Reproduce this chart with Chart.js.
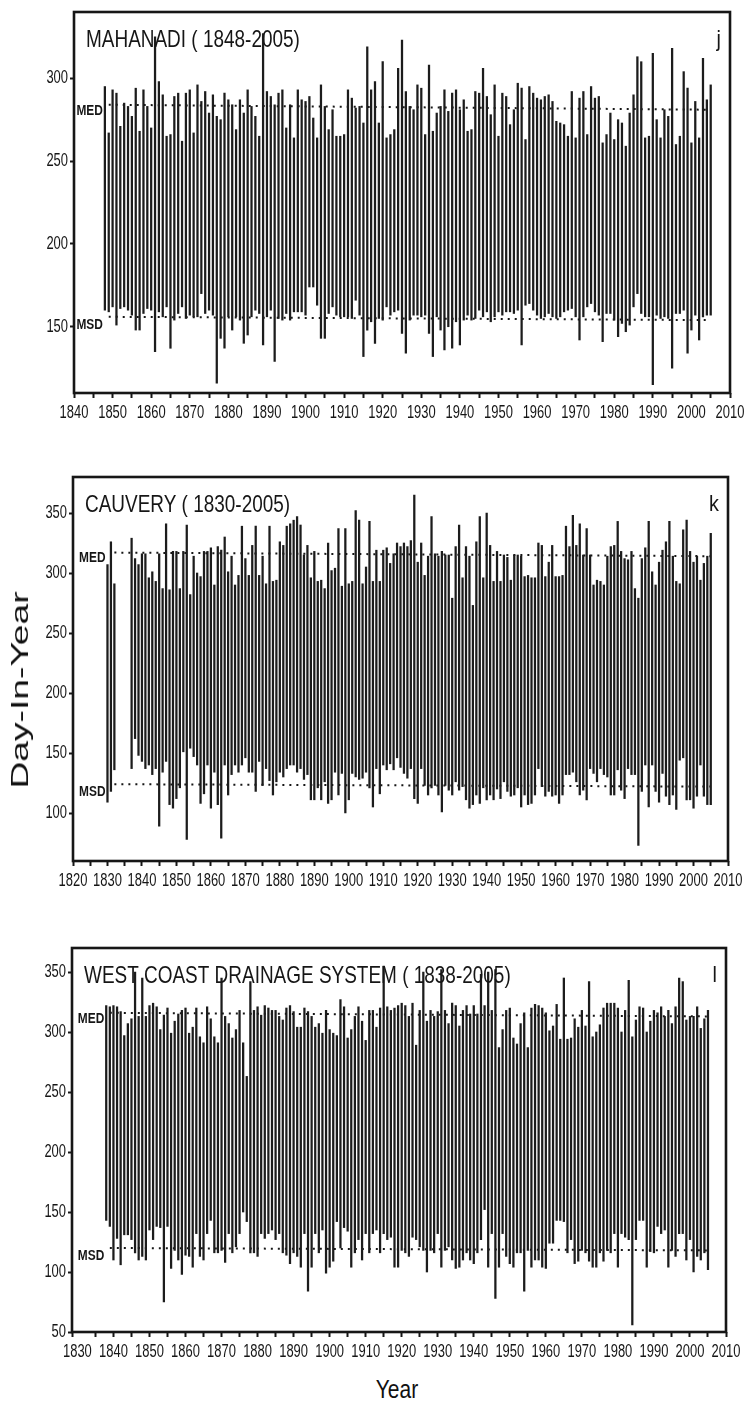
<!DOCTYPE html>
<html>
<head>
<meta charset="utf-8">
<script src="https://cdn.jsdelivr.net/npm/chart.js@4.4.1/dist/chart.umd.min.js"></script>
<style>
  body { margin: 0; background: #fff; width: 745px; height: 1407px; position: relative; overflow: hidden;
         font-family: 'Liberation Sans', Arial, sans-serif; color: #111; }
  canvas { position: absolute; left: 0; }
  #ylab { position: absolute; left: -130px; top: 676px; width: 300px; height: 28px; line-height: 28px;
          text-align: center; font-size: 24px; transform: rotate(-90deg) scaleX(1.55); }
  #xlab { position: absolute; left: 297px; top: 1378px; width: 200px; text-align: center;
          font-size: 21px; transform: scaleY(1.2); }
</style>
</head>
<body>
<canvas id="c1" width="745" height="433" style="top:0px"></canvas>
<canvas id="c2" width="745" height="436" style="top:465px"></canvas>
<canvas id="c3" width="745" height="436" style="top:936px"></canvas>
<div id="ylab">Day-In-Year</div>
<div id="xlab">Year</div>
<script>
// Mahanadi, 1848-2005 : withdrawal (top of line) and onset (bottom of line), day of year
const mahanadiStart = 1848;
const mahanadiWithdrawal = [
  295, 267, 293, 291, 271, 285, 283, 277, 294, 268,
  293, 283, 270, 325, 298, 290, 265, 266, 289, 291,
  262, 291, 293, 267, 296, 286, 292, 279, 290, 277,
  275, 291, 287, 284, 269, 287, 279, 293, 283, 277,
  265, 327, 292, 289, 284, 291, 293, 270, 284, 264,
  293, 287, 286, 289, 276, 264, 296, 283, 269, 281,
  265, 265, 266, 293, 288, 282, 283, 273, 319, 293,
  298, 273, 310, 264, 266, 269, 306, 323, 292, 283,
  281, 296, 294, 266, 308, 268, 279, 283, 293, 280,
  291, 293, 281, 287, 268, 269, 292, 291, 306, 289,
  278, 296, 265, 291, 289, 272, 281, 297, 294, 263,
  295, 291, 288, 287, 289, 290, 286, 274, 273, 272,
  265, 292, 264, 288, 292, 266, 295, 288, 289, 261,
  266, 279, 263, 275, 273, 259, 279, 290, 313, 310,
  264, 265, 315, 275, 264, 281, 277, 318, 260, 265,
  304, 294, 261, 286, 264, 312, 287, 296
];
const mahanadiOnset = [
  160, 159, 162, 151, 161, 162, 160, 157, 148, 148,
  158, 161, 160, 135, 159, 156, 162, 137, 154, 158,
  162, 155, 157, 156, 156, 170, 158, 160, 157, 116,
  143, 137, 156, 148, 156, 154, 140, 145, 156, 160,
  158, 139, 156, 160, 129, 155, 154, 158, 154, 159,
  159, 159, 157, 174, 174, 163, 143, 143, 158, 162,
  157, 156, 156, 156, 155, 166, 157, 132, 148, 153,
  140, 155, 154, 162, 157, 159, 160, 146, 134, 154,
  157, 157, 156, 157, 146, 132, 156, 148, 136, 150,
  137, 153, 139, 154, 157, 154, 155, 160, 156, 159,
  153, 156, 159, 157, 159, 159, 158, 160, 139, 163,
  164, 160, 157, 155, 156, 158, 156, 155, 156, 159,
  160, 161, 156, 142, 156, 162, 164, 159, 157, 141,
  158, 158, 154, 144, 152, 147, 151, 162, 170, 158,
  156, 156, 115, 157, 155, 156, 155, 125, 158, 158,
  160, 134, 148, 157, 142, 156, 157, 157
];
const mahanadiMedYears = [1849, 2005];
const mahanadiMed = [284, 281];
const mahanadiMsd = [156, 154];

// Cauvery, 1830-2005 (no record 1833-1836)
const cauveryStart = 1830;
const cauveryWithdrawal = [
  307, 326, 291, null, null, null, null, 329, 312, 307,
  316, 316, 296, 301, 293, 316, 287, 341, 286, 318,
  318, 287, 318, 340, 282, 314, 300, 297, 318, 318,
  321, 290, 322, 319, 330, 301, 314, 290, 298, 339,
  312, 298, 323, 339, 298, 314, 291, 339, 293, 294,
  326, 323, 339, 341, 344, 347, 340, 315, 323, 296,
  318, 293, 294, 287, 325, 302, 304, 337, 289, 337,
  291, 293, 352, 344, 291, 305, 343, 293, 319, 293,
  319, 321, 308, 316, 325, 322, 325, 322, 327, 365,
  309, 325, 298, 314, 347, 316, 314, 318, 315, 315,
  279, 322, 340, 296, 322, 314, 273, 326, 347, 296,
  350, 323, 293, 318, 293, 315, 313, 294, 315, 315,
  314, 297, 298, 296, 296, 325, 323, 297, 309, 323,
  297, 297, 298, 339, 322, 348, 323, 341, 315, 337,
  315, 290, 294, 293, 290, 314, 322, 323, 343, 318,
  312, 311, 318, 287, 279, 312, 321, 343, 301, 290,
  309, 319, 326, 343, 314, 293, 291, 336, 344, 318,
  309, 314, 294, 308, 314, 333
];
const cauveryOnset = [
  109, 118, 136, null, null, null, null, 137, 162, 148,
  143, 137, 140, 132, 137, 89, 134, 143, 107, 104,
  112, 121, 151, 78, 154, 147, 140, 108, 116, 140,
  104, 134, 107, 79, 140, 115, 132, 140, 134, 140,
  146, 134, 134, 118, 143, 123, 137, 127, 115, 126,
  134, 130, 137, 140, 140, 134, 137, 128, 132, 111,
  111, 121, 111, 126, 108, 111, 134, 115, 133, 100,
  111, 133, 130, 128, 129, 134, 121, 105, 137, 116,
  140, 136, 141, 136, 146, 138, 133, 129, 137, 112,
  108, 137, 123, 115, 121, 123, 115, 101, 123, 119,
  115, 126, 119, 122, 111, 104, 107, 115, 108, 121,
  111, 115, 111, 120, 112, 126, 118, 114, 115, 121,
  105, 115, 107, 108, 115, 137, 122, 114, 118, 114,
  115, 108, 115, 132, 132, 134, 126, 115, 119, 111,
  137, 133, 126, 137, 132, 130, 115, 115, 136, 119,
  112, 137, 132, 132, 73, 118, 140, 105, 140, 118,
  109, 133, 114, 107, 115, 103, 144, 146, 111, 111,
  104, 114, 140, 114, 107, 107
];
const cauveryMedYears = [1832, 2005];
const cauveryMed = [317, 314];
const cauveryMsd = [124, 122];

// West coast drainage system, 1838-2005
const westStart = 1838;
const westWithdrawal = [
  322, 321, 322, 321, 317, 297, 307, 311, 350, 313,
  345, 313, 322, 324, 321, 302, 314, 320, 299, 309,
  315, 318, 320, 299, 304, 320, 296, 291, 321, 311,
  296, 291, 345, 313, 307, 295, 302, 318, 291, 263,
  342, 318, 321, 314, 322, 320, 318, 318, 313, 310,
  320, 322, 317, 304, 304, 320, 317, 313, 304, 307,
  299, 318, 302, 299, 297, 327, 321, 295, 302, 313,
  321, 309, 293, 318, 318, 304, 320, 355, 321, 318,
  320, 322, 324, 322, 313, 324, 289, 318, 350, 309,
  318, 313, 317, 352, 318, 307, 324, 322, 305, 318,
  322, 315, 322, 315, 348, 322, 350, 318, 352, 287,
  302, 318, 320, 295, 290, 307, 316, 287, 320, 323,
  322, 320, 316, 301, 305, 323, 294, 345, 294, 295,
  311, 304, 318, 305, 342, 296, 300, 306, 320, 324,
  324, 324, 320, 300, 318, 343, 296, 310, 321, 320,
  300, 309, 318, 316, 321, 313, 318, 307, 321, 345,
  342, 310, 313, 313, 321, 303, 311, 318
];
const westOnset = [
  143, 138, 110, 128, 106, 131, 131, 127, 116, 110,
  113, 110, 135, 127, 138, 137, 75, 138, 103, 118,
  110, 98, 114, 113, 104, 132, 113, 110, 132, 143,
  116, 116, 118, 108, 132, 116, 121, 132, 150, 142,
  116, 116, 113, 132, 128, 132, 135, 127, 132, 116,
  114, 107, 116, 113, 104, 132, 84, 104, 132, 116,
  135, 99, 104, 109, 142, 120, 137, 134, 104, 116,
  127, 110, 132, 116, 132, 135, 116, 132, 127, 129,
  104, 104, 118, 116, 113, 129, 127, 121, 118, 100,
  118, 116, 132, 104, 118, 121, 110, 103, 104, 110,
  116, 110, 107, 116, 127, 152, 104, 132, 78, 104,
  132, 113, 107, 104, 116, 116, 84, 118, 104, 110,
  110, 104, 103, 124, 124, 143, 143, 142, 116, 127,
  107, 109, 118, 116, 109, 104, 104, 116, 109, 118,
  116, 132, 104, 132, 129, 127, 56, 127, 143, 143,
  104, 117, 116, 138, 132, 135, 104, 118, 113, 132,
  132, 110, 127, 100, 113, 110, 116, 102
];
const westMedYears = [1839, 2005];
const westMed = [316, 313];
const westMsd = [120, 118];

const FONT = "'Liberation Sans', Arial, sans-serif";
const INK = '#161616';

// the scanned figure uses a tall condensed face, so squeeze the text sideways
function narrowText(ctx, text, x, y, size, weight, align, squeeze) {
  ctx.save();
  ctx.font = weight + ' ' + size + 'px ' + FONT;
  ctx.textAlign = align;
  ctx.translate(x, y);
  ctx.scale(squeeze, 1);
  ctx.fillText(text, 0, 0);
  ctx.restore();
}

// frame, tick labels, title, panel letter and MED / MSD labels
const panelPlugin = {
  id: 'panel',
  afterDraw(chart, args, opts) {
    const { ctx, chartArea: a, scales: { x, y } } = chart;
    ctx.save();
    ctx.strokeStyle = INK;
    ctx.lineWidth = 2.6;
    ctx.strokeRect(a.left, a.top, a.right - a.left, a.bottom - a.top);
    ctx.fillStyle = INK;
    ctx.textBaseline = 'middle';
    for (let v = Math.ceil(x.min / 10) * 10; v <= x.max; v += 10) {
      narrowText(ctx, String(v), x.getPixelForValue(v), a.bottom + 20, 18, 'normal', 'center', 0.72);
    }
    for (let v = Math.ceil(y.min / 50) * 50; v <= y.max; v += 50) {
      narrowText(ctx, String(v), a.left - 6, y.getPixelForValue(v), 18, 'normal', 'right', 0.72);
    }
    ctx.textBaseline = 'alphabetic';
    narrowText(ctx, opts.title, a.left + 12, a.top + 35, 24, 'normal', 'left', 0.79);
    narrowText(ctx, opts.letter, a.right - 9, a.top + 34, 22, 'normal', 'right', 0.9);
    ctx.textBaseline = 'middle';
    const lx = x.getPixelForValue(opts.firstYear) - 2;
    narrowText(ctx, 'MED', lx, y.getPixelForValue(opts.med) + 6, 14, 'bold', 'right', 0.85);
    narrowText(ctx, 'MSD', lx, y.getPixelForValue(opts.msd) + 8, 14, 'bold', 'right', 0.85);
    ctx.restore();
  }
};

function makePanel(id, p) {
  const bars = [];
  p.withdrawal.forEach((w, i) => {
    if (w !== null && p.onset[i] !== null) {
      bars.push({ x: p.start + i, y: [p.onset[i], w] });
    }
  });
  const dotted = (vals) => ({
    type: 'line',
    data: p.medYears.map((yr, i) => ({ x: yr, y: vals[i] })),
    borderColor: INK,
    borderWidth: 2,
    borderDash: [2, 5],
    pointRadius: 0,
    fill: false
  });

  new Chart(document.getElementById(id), {
    type: 'bar',
    data: {
      datasets: [
        {
          data: bars,
          backgroundColor: '#1c1c1c',
          borderWidth: 0,
          barThickness: 1.6,
          grouped: false
        },
        dotted(p.med),
        dotted(p.msd)
      ]
    },
    options: {
      responsive: false,
      devicePixelRatio: 1,
      animation: false,
      events: [],
      layout: { padding: { top: 12, right: p.padRight, left: 0, bottom: 0 } },
      plugins: {
        legend: { display: false },
        tooltip: { enabled: false },
        panel: {
          title: p.title, letter: p.letter, firstYear: p.start,
          med: p.med[0], msd: p.msd[0]
        }
      },
      scales: {
        x: {
          type: 'linear',
          min: p.xMin, max: 2010,
          offset: false,
          border: { display: false },
          grid: { offset: false, drawOnChartArea: false, drawTicks: true, tickLength: 5, tickWidth: 2, tickColor: INK },
          ticks: { stepSize: 5, autoSkip: false, display: false },
          afterFit: (s) => { s.height = 40; }
        },
        y: {
          min: p.yMin, max: p.yMax,
          border: { display: false },
          grid: { drawOnChartArea: false, drawTicks: true, tickLength: 4, tickWidth: 2, tickColor: INK },
          ticks: { stepSize: 50, includeBounds: false, display: false },
          afterFit: (s) => { s.width = p.axisWidth; }
        }
      }
    },
    plugins: [panelPlugin]
  });
}

makePanel('c1', {
  title: 'MAHANADI ( 1848-2005)', letter: 'j',
  start: mahanadiStart, withdrawal: mahanadiWithdrawal, onset: mahanadiOnset,
  medYears: mahanadiMedYears, med: mahanadiMed, msd: mahanadiMsd,
  xMin: 1840, yMin: 110, yMax: 340, axisWidth: 74, padRight: 15
});
makePanel('c2', {
  title: 'CAUVERY ( 1830-2005)', letter: 'k',
  start: cauveryStart, withdrawal: cauveryWithdrawal, onset: cauveryOnset,
  medYears: cauveryMedYears, med: cauveryMed, msd: cauveryMsd,
  xMin: 1820, yMin: 60, yMax: 380, axisWidth: 73, padRight: 17
});
makePanel('c3', {
  title: 'WEST COAST DRAINAGE SYSTEM ( 1838-2005)', letter: 'l',
  start: westStart, withdrawal: westWithdrawal, onset: westOnset,
  medYears: westMedYears, med: westMed, msd: westMsd,
  xMin: 1828.5, yMin: 50, yMax: 370, axisWidth: 72, padRight: 19
});
</script>
</body>
</html>
